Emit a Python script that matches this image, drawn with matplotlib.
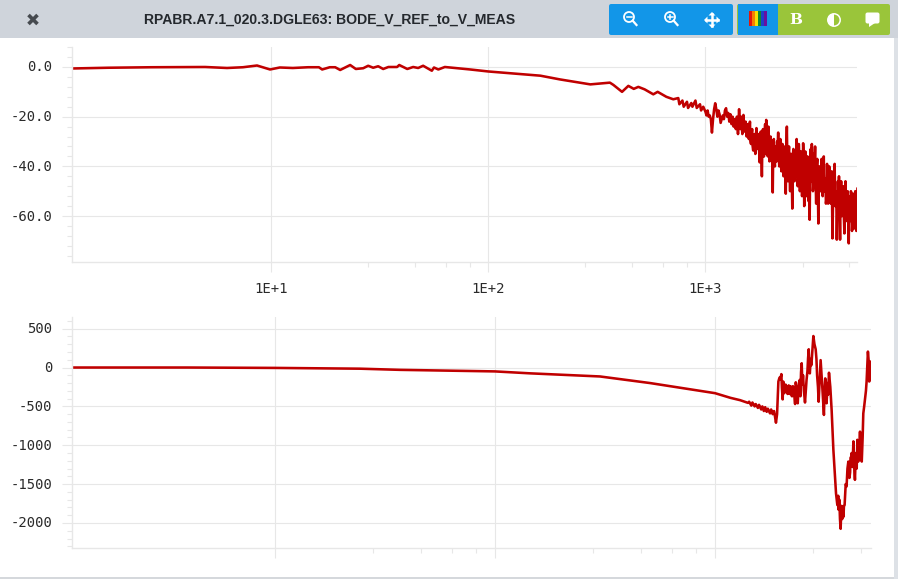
import matplotlib
matplotlib.use("Agg")
import matplotlib.pyplot as plt
import numpy as np
from matplotlib.patches import Rectangle, FancyBboxPatch, Circle, Wedge, Polygon
from matplotlib.transforms import ScaledTranslation

TITLE = "RPABR.A7.1_020.3.DGLE63: BODE_V_REF_to_V_MEAS"

# Gain curve: log10(frequency) and dB
gain_log_f_smooth = [0.083, 0.25, 0.45, 0.696, 0.797, 0.87, 0.935, 0.995, 1.04, 1.10, 1.17, 1.22, 1.235,
                     1.27, 1.295, 1.318, 1.364, 1.39, 1.424, 1.447, 1.47, 1.493, 1.516, 1.54, 1.58, 1.59,
                     1.627, 1.654, 1.677, 1.70, 1.74, 1.75, 1.77, 1.80, 1.917, 2.0, 2.10, 2.24, 2.33, 2.47,
                     2.56, 2.576, 2.616, 2.645, 2.67, 2.691, 2.72, 2.76, 2.78, 2.82, 2.852, 2.875, 2.88,
                     2.894, 2.90, 2.915, 2.92, 2.935, 2.94, 2.954, 2.96, 2.975, 2.98, 2.99]
gain_db_smooth = [-0.6, -0.3, -0.1, 0.0, -0.4, -0.1, 0.6, -1.0, -0.2, -0.4, -0.1, -0.1, -1.0,
                  -0.1, -0.1, -1.2, 0.8, -0.8, -0.5, 0.5, -0.3, 0.3, -0.8, 0.0, 0.0, 0.8,
                  -0.8, 0.0, -0.4, 0.5, -1.5, -0.2, -1.0, 0.0, -1.0, -1.8, -2.5, -3.5, -5.0, -7.0,
                  -6.3, -7.2, -10.0, -7.6, -8.8, -8.0, -9.0, -11.0, -10.0, -12.0, -13.0, -12.5, -15.0,
                  -13.5, -16.0, -14.0, -16.5, -14.5, -16.0, -13.5, -16.5, -15.0, -17.5, -16.0]
gain_log_f_noisy = [3.000, 3.005, 3.010, 3.015, 3.020, 3.025, 3.030, 3.035, 3.040, 3.045,
                    3.050, 3.055, 3.060, 3.065, 3.070, 3.075, 3.080, 3.085, 3.090, 3.095,
                    3.100, 3.105, 3.110, 3.115, 3.120, 3.125, 3.130, 3.135, 3.140, 3.145,
                    3.150, 3.155, 3.160, 3.165, 3.170, 3.175, 3.180, 3.185, 3.190, 3.195,
                    3.200, 3.205, 3.210, 3.215, 3.220, 3.225, 3.230, 3.235, 3.240, 3.245,
                    3.250, 3.255, 3.260, 3.265, 3.270, 3.275, 3.280, 3.285, 3.290, 3.295,
                    3.300, 3.305, 3.310, 3.315, 3.320, 3.325, 3.330, 3.335, 3.340, 3.345,
                    3.350, 3.355, 3.360, 3.365, 3.370, 3.375, 3.380, 3.385, 3.390, 3.395,
                    3.400, 3.405, 3.410, 3.415, 3.420, 3.425, 3.430, 3.435, 3.440, 3.445,
                    3.450, 3.455, 3.460, 3.465, 3.470, 3.475, 3.480, 3.485, 3.490, 3.495,
                    3.500, 3.505, 3.510, 3.515, 3.520, 3.525, 3.530, 3.535, 3.540, 3.545,
                    3.550, 3.555, 3.560, 3.565, 3.570, 3.575, 3.580, 3.585, 3.590, 3.595,
                    3.600, 3.605, 3.610, 3.615, 3.620, 3.625, 3.630, 3.635, 3.640, 3.645,
                    3.650, 3.655, 3.660, 3.665, 3.670, 3.675, 3.680, 3.685, 3.690, 3.695, 3.700]
gain_db_noisy = [-18, -19.5, -17.5, -20, -19.5, -21, -26.4, -21, -17, -14.6,
                 -17, -20, -17.5, -19, -22.5, -21, -19.5, -21, -17.5, -16.6,
                 -20, -18.5, -22, -19, -23, -20, -24, -21, -25, -20,
                 -27, -17, -25, -20, -27, -19.3, -26, -22, -28, -23,
                 -29, -22, -31, -25, -33.6, -27, -35, -24.6, -33, -27,
                 -38.4, -26, -44, -25, -36, -23, -21.3, -35, -24, -38,
                 -28, -37, -50.5, -29, -40, -38, -30, -26.4, -40, -29,
                 -42, -31, -44, -33, -51, -24, -46, -32, -50, -35,
                 -57, -33, -46, -37, -29, -48, -31, -50, -34, -52,
                 -30.7, -56, -34, -52, -36, -54, -61.5, -33, -31, -50,
                 -35, -32, -55, -37, -63, -40, -50, -37, -52, -36,
                 -48, -55, -39, -55, -40, -52, -42, -69, -42, -39,
                 -55, -69.5, -46, -44, -69.5, -46, -60, -48, -67, -46,
                 -62, -50, -71, -52, -50, -66, -51, -65, -50, -66, -49]
# Readings inside the dense band, between the readings above
gain_log_f_band = [3.2025, 3.2075, 3.2125, 3.2175, 3.2225, 3.2275, 3.2325, 3.2375, 3.2425, 3.2475,
                   3.2525, 3.2575, 3.2625, 3.2675, 3.2725, 3.2775, 3.2825, 3.2875, 3.2925, 3.2975,
                   3.3025, 3.3075, 3.3125, 3.3175, 3.3225, 3.3275, 3.3325, 3.3375, 3.3425, 3.3475,
                   3.3525, 3.3575, 3.3625, 3.3675, 3.3725, 3.3775, 3.3825, 3.3875, 3.3925, 3.3975,
                   3.4025, 3.4075, 3.4125, 3.4175, 3.4225, 3.4275, 3.4325, 3.4375, 3.4425, 3.4475,
                   3.4525, 3.4575, 3.4625, 3.4675, 3.4725, 3.4775, 3.4825, 3.4875, 3.4925, 3.4975,
                   3.5025, 3.5075, 3.5125, 3.5175, 3.5225, 3.5275, 3.5325, 3.5375, 3.5425, 3.5475,
                   3.5525, 3.5575, 3.5625, 3.5675, 3.5725, 3.5775, 3.5825, 3.5875, 3.5925, 3.5975,
                   3.6025, 3.6075, 3.6125, 3.6175, 3.6225, 3.6275, 3.6325, 3.6375, 3.6425, 3.6475,
                   3.6525, 3.6575, 3.6625, 3.6675, 3.6725, 3.6775, 3.6825, 3.6875, 3.6925, 3.6975]
gain_db_band = [-25, -30, -27, -32, -28, -33, -28, -31, -29, -34,
                -28, -34, -29, -36, -27, -35, -29, -36, -29, -36,
                -31, -37, -31, -38, -32, -38, -32, -36, -33, -39,
                -32, -40, -32, -40, -33, -40, -35, -41, -35, -43,
                -36, -43, -35, -44, -35, -42, -36, -45, -37, -44,
                -37, -46, -36, -47, -38, -47, -38, -46, -39, -47,
                -39, -46, -40, -48, -41, -49, -42, -50, -43, -50,
                -45, -53, -47, -54, -48, -55, -48, -56, -49, -56,
                -50, -58, -51, -58, -52, -60, -52, -60, -52, -60,
                -52, -61, -52, -62, -52, -62, -52, -62, -51, -63]

# Phase curve: log10(frequency) and degrees
phase_log_f = [0.077, 0.6, 1.0, 1.386, 1.568, 2.0, 2.16, 2.477, 2.705, 2.93, 3.0, 3.07, 3.114,
               3.15, 3.155, 3.165, 3.17, 3.18, 3.185, 3.195, 3.20, 3.21, 3.215, 3.222, 3.228, 3.235, 3.24,
               3.25, 3.255, 3.262, 3.268, 3.272, 3.277, 3.282, 3.288, 3.293, 3.3015, 3.3075, 3.312, 3.318,
               3.324, 3.33, 3.335, 3.34, 3.345, 3.35, 3.354, 3.358, 3.364, 3.37, 3.376, 3.382, 3.388,
               3.394, 3.40, 3.409, 3.416, 3.426, 3.431, 3.438, 3.447, 3.4575, 3.464, 3.471, 3.48, 3.487,
               3.495, 3.501, 3.507, 3.518, 3.530, 3.538, 3.547, 3.556, 3.56, 3.565, 3.571, 3.575, 3.58,
               3.584, 3.589, 3.598, 3.606, 3.611, 3.616, 3.621, 3.629, 3.636, 3.647, 3.651, 3.659,
               3.667, 3.674, 3.682, 3.689, 3.695, 3.701, 3.708]
phase_deg = [0, 0, -5, -15, -30, -50, -75, -115, -200, -300, -330, -390, -420,
             -455, -440, -490, -450, -500, -470, -520, -480, -540, -500, -560, -510, -570, -530,
             -590, -540, -600, -560, -620, -710, -600, -180, -130, -85, -410, -210, -300, -250,
             -340, -230, -310, -260, -370, -240, -360, -470, -250, -460, -200, -370,
             55, -100, -450, -160, 235, -75, 30, 405, 235, -100, -440, 95, -220,
             -610, -140, -460, -67, -545, -1060, -1490, -1770, -1650, -1700, -2075, -1780, -1790,
             -1920, -1770, -1530, -1210, -1420, -1160, -1100, -950, -1445, -930, -1210, -825,
             -1210, -590, -395, -180, 205, -180, 75]
phase_log_f_extra = [3.297, 3.304, 3.31, 3.315, 3.321, 3.327, 3.333, 3.338, 3.343, 3.348, 3.352, 3.356,
                     3.361, 3.367, 3.373, 3.379, 3.385, 3.391, 3.397, 3.404, 3.412, 3.42, 3.423, 3.429,
                     3.435, 3.442, 3.452, 3.461, 3.468, 3.475, 3.484, 3.491, 3.498, 3.504, 3.512, 3.514,
                     3.524, 3.55, 3.553, 3.562, 3.568, 3.573, 3.578, 3.582, 3.586, 3.594, 3.602, 3.608,
                     3.614, 3.619, 3.625, 3.633, 3.64, 3.644, 3.655, 3.663, 3.671, 3.678, 3.686, 3.692,
                     3.698, 3.704]
phase_deg_extra = [-150, -260, -180, -330, -220, -300, -260, -340, -240, -360, -280, -250,
                   -380, -190, -420, -290, -160, -60, -220, -300, -330, -50, 120, -30,
                   110, 200, 300, 110, -250, -200, -80, -420, -300, -330, -200, -350,
                   -250, -1620, -1700, -1830, -1950, -1900, -1950, -1850, -1780, -1500, -1300, -1250,
                   -1350, -1150, -1280, -1300, -1100, -1300, -1050, -1100, -900, -500, -300, 0,
                   100, -50]

major_f = [10, 100, 1000]
minor_f = [28, 46, 64, 82, 280, 460, 640, 820, 2800, 4600]
gain_major = [0, -20, -40, -60]
gain_labels = ["0.0", "-20.0", "-40.0", "-60.0"]
gain_minor = [8, 4, -4, -8, -12, -16, -24, -28, -32, -36, -44, -48, -52, -56, -64, -68, -72, -76]
phase_major = [500, 0, -500, -1000, -1500, -2000]
phase_labels = ["500", "0", "-500", "-1000", "-1500", "-2000"]
phase_minor = [600, 400, 300, 200, 100, -100, -200, -300, -400, -600, -700, -800, -900,
               -1100, -1200, -1300, -1400, -1600, -1700, -1800, -1900, -2100, -2200, -2300]

W, H = 898, 579
GRID = "#E7E7E7"
RED = "#C00000"
LW = 1.85
fig = plt.figure(figsize=(W / 100, H / 100), dpi=100, facecolor="white")


def panel(l, r, t, b):
    return fig.add_axes([l / W, 1 - b / H, (r - l) / W, (b - t) / H])


def style(ax, xmaj, xmin, ymaj, ylab, ymin, show_x):
    ax.set_xscale("log")
    for s in ("top", "right"):
        ax.spines[s].set_visible(False)
    for s in ("left", "bottom"):
        ax.spines[s].set_color(GRID)
        ax.spines[s].set_linewidth(1)
    ax.set_xticks(xmaj)
    ax.set_xticklabels(["1E+1", "1E+2", "1E+3"] if show_x else [])
    ax.set_xticks(xmin, minor=True)
    ax.set_xticklabels([], minor=True)
    ax.set_yticks(ymaj)
    ax.set_yticklabels(ylab)
    ax.set_yticks(ymin, minor=True)
    ax.tick_params(axis="both", which="major", length=7.2, width=0.8, color=GRID, pad=7,
                   labelsize=10, labelcolor="#2A2A2A")
    ax.tick_params(axis="both", which="minor", length=3.6, width=0.8, color=GRID)
    ax.tick_params(axis="x", which="major", pad=7.5)
    for lab in ax.get_xticklabels() + ax.get_yticklabels():
        lab.set_family("DejaVu Sans Mono")
    for lab in ax.get_yticklabels():
        lab.set_transform(lab.get_transform() + ScaledTranslation(0, 1 / 100, fig.dpi_scale_trans))
    ax.grid(True, which="major", color=GRID, linewidth=0.8)
    ax.set_axisbelow(True)


ax1 = panel(72, 857, 47, 261.5)
gx = np.array(gain_log_f_smooth + gain_log_f_noisy + gain_log_f_band)
gy = np.array(gain_db_smooth + gain_db_noisy + gain_db_band)
order = np.argsort(gx)
ax1.plot(10 ** gx[order], gy[order], color=RED, lw=LW, solid_joinstyle="round")
style(ax1, major_f, minor_f, gain_major, gain_labels, gain_minor, True)
ax1.set_xlim(10 ** 0.083, 10 ** 3.698)
ax1.set_ylim(-78.3, 8.05)

ax2 = panel(72, 871, 317, 548)
px = np.array(phase_log_f + phase_log_f_extra)
py = np.array(phase_deg + phase_deg_extra)
order = np.argsort(px)
ax2.plot(10 ** px[order], py[order], color=RED, lw=LW, solid_joinstyle="round")
style(ax2, major_f, minor_f, phase_major, phase_labels, phase_minor, False)
ax2.set_xlim(10 ** 0.077, 10 ** 3.709)
ax2.set_ylim(-2322, 650)

# Window chrome drawn in pixel coordinates
top = fig.add_axes([0, 0, 1, 1], zorder=5)
top.set_xlim(0, W)
top.set_ylim(H, 0)
top.axis("off")
top.patch.set_alpha(0)

CHROME = "#CFD4DB"
top.add_patch(Rectangle((0, 0), W, 38, fc=CHROME, ec="none"))
top.add_patch(Rectangle((894, 38), 4, H - 38, fc="#DDE1E6", ec="none"))
top.add_patch(Rectangle((0, 577), 894, 2, fc="#D5D8DC", ec="none"))
top.plot([28.5, 37.5], [15, 24], color="#464A4F", lw=2.6, solid_capstyle="butt")
top.plot([28.5, 37.5], [24, 15], color="#464A4F", lw=2.6, solid_capstyle="butt")
top.text(329.5, 19.5, TITLE, ha="center", va="center", fontsize=10.1, fontweight="bold",
         family="Liberation Sans", color="#24282D")

BLUE = "#1296E8"
GREEN = "#9AC53A"
top.add_patch(FancyBboxPatch((611, 6), 120, 27, boxstyle="square,pad=0", fc=BLUE, ec=BLUE, lw=2.88, joinstyle="round"))
top.add_patch(FancyBboxPatch((739, 6), 149, 27, boxstyle="square,pad=0", fc=GREEN, ec=GREEN, lw=2.88, joinstyle="round"))
top.add_patch(Rectangle((737.5, 4), 40.5, 31, fc=BLUE, ec="none"))

for cx, plus in ((629, False), (670, True)):
    top.add_patch(Circle((cx, 17), 5, fc="none", ec="white", lw=1.3))
    top.plot([cx + 3.7, cx + 7.5], [20.7, 25], color="white", lw=1.6)
    top.plot([cx - 2.5, cx + 2.5], [17, 17], color="white", lw=1.1)
    if plus:
        top.plot([cx, cx], [15, 19], color="white", lw=1.1)

mx, my = 712, 20
top.plot([mx - 6, mx + 6], [my, my], color="white", lw=1.8)
top.plot([mx, mx], [my - 6, my + 6], color="white", lw=1.8)
for dx, dy in ((1, 0), (-1, 0), (0, 1), (0, -1)):
    tip = (mx + dx * 8, my + dy * 8)
    a = (mx + dx * 4.5 + dy * 3.5, my + dy * 4.5 + dx * 3.5)
    b = (mx + dx * 4.5 - dy * 3.5, my + dy * 4.5 - dx * 3.5)
    top.add_patch(Polygon([tip, a, b], fc="white", ec="none"))

stripes = ["#E3170A", "#F57F00", "#F7E000", "#0F8A2F", "#1E40C8", "#6A0FA0"]
for k, c in enumerate(stripes):
    top.add_patch(Rectangle((749 + k * 3, 11), 3, 15, fc=c, ec="none"))

top.text(796, 20.5, "B", ha="center", va="center", color="white", fontsize=11,
         fontweight="bold", family="DejaVu Serif")
top.add_patch(Circle((834, 20), 6.2, fc="none", ec="white", lw=1.1))
top.add_patch(Wedge((834, 20), 6.2, 90, 270, fc="white", ec="none"))
top.add_patch(FancyBboxPatch((867, 14), 11, 8, boxstyle="round,pad=1.5,rounding_size=2", fc="white", ec="none"))
top.add_patch(Polygon([(869, 23), (875, 23), (869, 27)], fc="white", ec="none"))

fig.savefig("out.png", dpi=100)
